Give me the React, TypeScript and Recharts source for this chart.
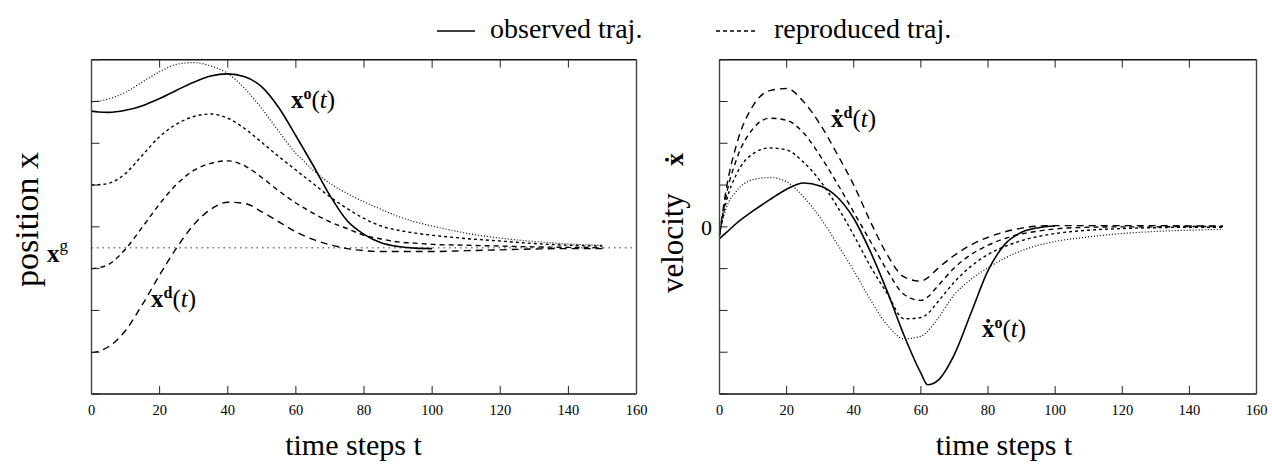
import React from 'react';
import { LineChart, Line, XAxis, YAxis, ReferenceLine } from 'recharts';

// time steps shared by every curve
const T = [0, 2, 5, 10, 15, 20, 25, 30, 35, 40, 45, 50, 55, 60, 62, 65, 70, 75, 80, 85, 90, 95, 100, 110, 120, 130, 140, 150];

// position x (left panel); the observed one stops at t = 100
const obsPos = [6.77, 6.75, 6.74, 6.79, 6.9, 7.07, 7.27, 7.46, 7.61, 7.66, 7.59, 7.35, 6.85, 6.18, 5.9, 5.48, 4.75, 4.15, 3.82, 3.62, 3.53, 3.49, 3.48, null, null, null, null, null];
const rep1Pos = [6.99, 7.01, 7.06, 7.22, 7.47, 7.71, 7.89, 7.93, 7.85, 7.67, 7.31, 6.83, 6.28, 5.76, 5.6, 5.36, 5.04, 4.8, 4.6, 4.42, 4.25, 4.12, 4.02, 3.85, 3.73, 3.65, 3.59, 3.56];
const rep2Pos = [5.0, 5.01, 5.04, 5.28, 5.72, 6.16, 6.46, 6.64, 6.7, 6.6, 6.35, 6.02, 5.68, 5.36, 5.23, 5.04, 4.72, 4.44, 4.2, 4.02, 3.92, 3.85, 3.8, 3.72, 3.66, 3.6, 3.56, 3.54];
const rep3Pos = [3.0, 3.02, 3.1, 3.47, 4.0, 4.55, 5.02, 5.35, 5.52, 5.58, 5.46, 5.18, 4.86, 4.57, 4.47, 4.33, 4.12, 3.96, 3.8, 3.71, 3.64, 3.61, 3.58, 3.56, 3.54, 3.52, 3.51, 3.5];
const rep4Pos = [0.99, 1.02, 1.13, 1.52, 2.15, 2.85, 3.5, 4.05, 4.42, 4.59, 4.56, 4.36, 4.12, 3.88, 3.8, 3.7, 3.57, 3.48, 3.43, 3.41, 3.41, 3.41, 3.41, 3.43, 3.45, 3.47, 3.48, 3.48];
const goalPos = 3.5;

// velocity (right panel)
const obsVel = [-0.28, -0.14, 0.08, 0.38, 0.65, 0.9, 1.05, 0.98, 0.72, 0.2, -0.6, -1.55, -2.6, -3.5, -3.78, -3.68, -3.05, -2.05, -1.05, -0.42, -0.13, -0.02, 0.02, null, null, null, null, null];
const rep1Vel = [-0.15, 0.45, 0.85, 1.13, 1.18, 1.08, 0.72, 0.22, -0.4, -1.05, -1.75, -2.35, -2.68, -2.62, -2.5, -2.2, -1.62, -1.25, -0.98, -0.75, -0.57, -0.44, -0.35, -0.24, -0.16, -0.11, -0.08, -0.06];
const rep2Vel = [-0.2, 0.6, 1.25, 1.75, 1.89, 1.84, 1.55, 1.1, 0.5, -0.2, -0.95, -1.6, -2.2, -2.17, -2.08, -1.8, -1.32, -0.94, -0.66, -0.47, -0.33, -0.23, -0.16, -0.08, -0.04, -0.02, -0.01, -0.01];
const rep3Vel = [-0.2, 0.75, 1.6, 2.35, 2.6, 2.55, 2.25, 1.7, 1.05, 0.35, -0.35, -1.05, -1.62, -1.76, -1.68, -1.42, -0.98, -0.66, -0.44, -0.28, -0.17, -0.1, -0.05, -0.01, 0.0, 0.0, 0.01, 0.01];
const rep4Vel = [-0.2, 0.9, 1.95, 2.9, 3.26, 3.31, 3.0, 2.45, 1.75, 1.0, 0.12, -0.67, -1.2, -1.3, -1.22, -1.0, -0.68, -0.43, -0.25, -0.12, -0.03, 0.02, 0.03, 0.03, 0.03, 0.03, 0.02, 0.02];

const xTicks = [0, 20, 40, 60, 80, 100, 120, 140, 160];
const posTicks = [0, 1, 2, 3, 4, 5, 6, 7, 8];
const velTicks = [-4, -3, -2, -1, 0, 1, 2, 3, 4];

const FONT = '"Liberation Serif", "Times New Roman", serif';

const posData = T.map((t, i) => ({ t, obs: obsPos[i], r1: rep1Pos[i], r2: rep2Pos[i], r3: rep3Pos[i], r4: rep4Pos[i] }));
const velData = T.map((t, i) => ({ t, obs: obsVel[i], r1: rep1Vel[i], r2: rep2Vel[i], r3: rep3Vel[i], r4: rep4Vel[i] }));

const SERIES = [
  { key: 'r1', dash: '1 2', width: 1.2 },
  { key: 'r2', dash: '3 3', width: 1.4 },
  { key: 'r3', dash: '5 4', width: 1.4 },
  { key: 'r4', dash: '7 5', width: 1.4 },
  { key: 'obs', dash: undefined, width: 1.6 },
];

const blank = () => '';

// frame with inward ticks on all four sides
function axes(yDomain: number[], yTicks: number[], yFmt: (v: number) => string) {
  const line = { stroke: '#111', strokeWidth: 1.4 };
  return [
    <XAxis key="xb" xAxisId="b" dataKey="t" type="number" domain={[0, 160]} ticks={xTicks} interval={0}
      height={30} tickSize={-8} tickMargin={19} axisLine={line} tickLine={{ stroke: '#222' }}
      tick={{ fontSize: 14.5, fill: '#000', fontFamily: FONT }} />,
    <XAxis key="xt" xAxisId="top" orientation="top" dataKey="t" type="number" domain={[0, 160]} ticks={xTicks}
      interval={0} height={10} tickSize={-8} axisLine={line} tickLine={{ stroke: '#222' }} tickFormatter={blank} />,
    <YAxis key="yl" yAxisId="l" type="number" domain={yDomain} ticks={yTicks} interval={0} width={40}
      tickSize={-8} tickMargin={15.5} axisLine={{ stroke: '#444', strokeWidth: 1.4 }} tickLine={{ stroke: '#222' }}
      tick={{ fontSize: 22, fill: '#000', fontFamily: FONT }} tickFormatter={yFmt} />,
    <YAxis key="yr" yAxisId="r" orientation="right" type="number" domain={yDomain} ticks={yTicks} interval={0}
      width={10} tickSize={-8} axisLine={{ stroke: '#444', strokeWidth: 1.4 }} tickLine={{ stroke: '#222' }}
      tickFormatter={blank} />,
  ];
}

function lines() {
  return SERIES.map((s) => (
    <Line key={s.key} xAxisId="b" yAxisId="l" type="monotone" dataKey={s.key} stroke="#000"
      strokeWidth={s.width} strokeDasharray={s.dash} dot={false} activeDot={false}
      isAnimationActive={false} connectNulls={false} />
  ));
}

const margin = { top: 49.7, bottom: 40 };

export default function App() {
  return (
    <div style={{ position: 'absolute', left: 0, top: 0, width: 1272, height: 464, background: '#fff', fontFamily: FONT }}>
      <div style={{ position: 'absolute', left: 0, top: 0 }}>
        <LineChart width={660} height={464} data={posData} margin={{ ...margin, left: 51.5, right: 13.5 }}>
          {axes([0, 8], posTicks, blank)}
          <ReferenceLine xAxisId="b" yAxisId="l" y={goalPos} stroke="#777" strokeWidth={1.3} strokeDasharray="1.5 4" />
          {lines()}
        </LineChart>
      </div>
      <div style={{ position: 'absolute', left: 660, top: 0 }}>
        <LineChart width={612} height={464} data={velData} margin={{ ...margin, left: 19.5, right: 5.5 }}>
          {axes([-4, 4], velTicks, (v: number) => (v === 0 ? '0' : ''))}
          {lines()}
        </LineChart>
      </div>
      <svg width={1272} height={464} style={{ position: 'absolute', left: 0, top: 0, pointerEvents: 'none' }}
        fontFamily={FONT} fill="#000">
        {/* legend */}
        <line x1={437} y1={31} x2={475} y2={31} stroke="#000" strokeWidth={1.5} />
        <text x={490} y={38} fontSize={28}>observed traj.</text>
        <line x1={716} y1={31} x2={756} y2={31} stroke="#000" strokeWidth={1.3} strokeDasharray="4 3" />
        <text x={774} y={38} fontSize={28}>reproduced traj.</text>

        {/* axis titles */}
        <text x={353.5} y={455} fontSize={30} textAnchor="middle">time steps t</text>
        <text x={1004} y={455} fontSize={30} textAnchor="middle">time steps t</text>
        <text transform="translate(38 287) rotate(-90)" fontSize={34}>position x</text>
        <text transform="translate(683 293) rotate(-90)" fontSize={31}>velocity</text>
        <text transform="translate(683 166) rotate(-90)" fontSize={26} fontWeight="bold">ẋ</text>

        {/* goal label */}
        <text x={47} y={262} fontSize={25}>
          <tspan fontWeight="bold">x</tspan><tspan dy={-11} fontSize={17}>g</tspan>
        </text>

        {/* curve labels */}
        <text x={291} y={108} fontSize={25}>
          <tspan fontWeight="bold">x</tspan><tspan dy={-9} fontSize={16} fontWeight="bold">o</tspan>
          <tspan dy={9}>(</tspan><tspan fontStyle="italic">t</tspan><tspan>)</tspan>
        </text>
        <text x={151} y={307} fontSize={25}>
          <tspan fontWeight="bold">x</tspan><tspan dy={-9} fontSize={16} fontWeight="bold">d</tspan>
          <tspan dy={9}>(</tspan><tspan fontStyle="italic">t</tspan><tspan>)</tspan>
        </text>
        <text x={831} y={127} fontSize={25}>
          <tspan fontWeight="bold">ẋ</tspan><tspan dy={-9} fontSize={16} fontWeight="bold">d</tspan>
          <tspan dy={9}>(</tspan><tspan fontStyle="italic">t</tspan><tspan>)</tspan>
        </text>
        <text x={982} y={337} fontSize={25}>
          <tspan fontWeight="bold">ẋ</tspan><tspan dy={-9} fontSize={16} fontWeight="bold">o</tspan>
          <tspan dy={9}>(</tspan><tspan fontStyle="italic">t</tspan><tspan>)</tspan>
        </text>
      </svg>
    </div>
  );
}
